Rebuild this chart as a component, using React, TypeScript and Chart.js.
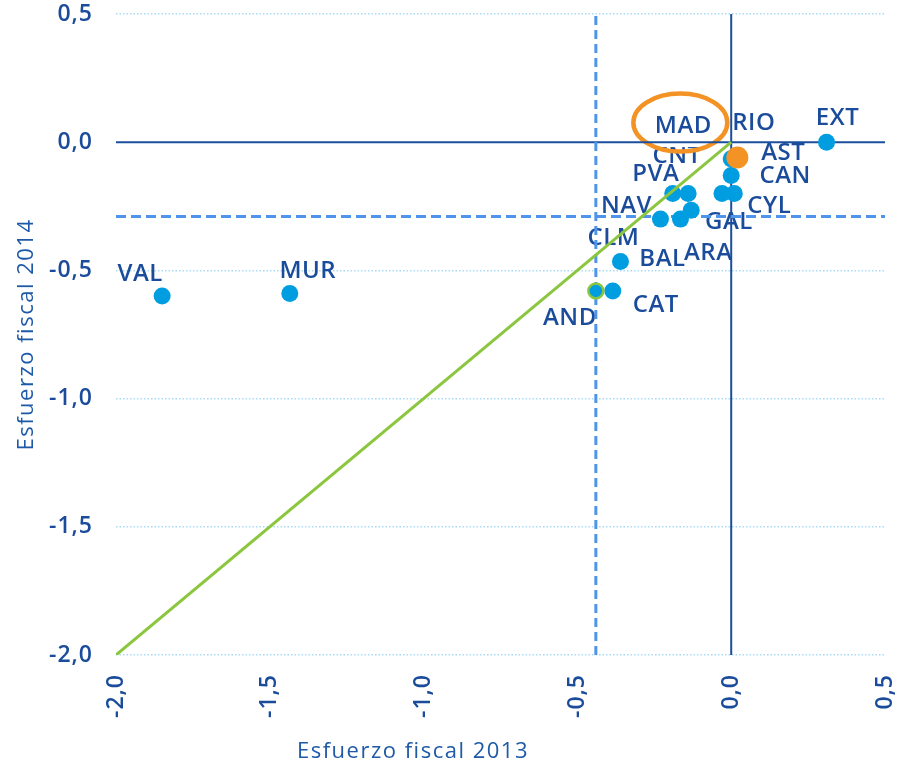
import React, { useEffect, useRef } from 'react';
import { Chart, registerables } from 'chart.js';

Chart.register(...registerables);

// ---- Data ----
const regions = ['EXT', 'MAD', 'RIO', 'AST', 'CAN', 'CYL', 'GAL', 'PVA', 'CNT', 'ARA', 'NAV', 'CLM', 'BAL', 'CAT', 'AND', 'VAL', 'MUR'];
const fiscal2013 = [0.31, 0.02, 0.015, 0.0, 0.0, 0.01, -0.03, -0.19, -0.14, -0.13, -0.23, -0.165, -0.36, -0.385, -0.44, -1.85, -1.435];
const fiscal2014 = [0.0, -0.06, -0.055, -0.065, -0.13, -0.2, -0.2, -0.2, -0.2, -0.265, -0.3, -0.3, -0.465, -0.58, -0.58, -0.6, -0.59];
const highlighted = ['MAD'];
const outlined = ['AND'];
const average2013 = -0.44;
const average2014 = -0.29;
const bisector2013 = [-2, 0];
const bisector2014 = [-2, 0];
const tickValues = [-2, -1.5, -1, -0.5, 0, 0.5];
const tickLabels = ['-2,0', '-1,5', '-1,0', '-0,5', '0,0', '0,5'];
const xTitle = 'Esfuerzo fiscal 2013';
const yTitle = 'Esfuerzo fiscal 2014';

// ---- Styles ----
const FONT = '"Open Sans", "Noto Sans", sans-serif';
const TEXT = '#1a4c9b';
const TITLE = '#1e5aa8';
const BLUE = '#009ee0';
const ORANGE = '#f39325';
const GREEN = '#8cc63f';
const DASH = '#4d94ea';
const GRID = '#a8dcf5';
const AXIS = '#1b4f9d';

// label offsets (pixels) from each point to its label centre
const labelOffsets: Record<string, [number, number]> = {
  EXT: [11, -26], MAD: [-54, -33], RIO: [18, -35], AST: [52, -7], CAN: [54, -1],
  CYL: [35, 11], GAL: [7, 27], PVA: [-17, -21], CNT: [-11, -39], ARA: [17, 41],
  NAV: [-34, -15], CLM: [-67, 17], BAL: [42, -4], CAT: [43, 13], AND: [-26, 26],
  VAL: [-22, -24], MUR: [18, -24],
};

const LABEL_SIZE = 24;

const pts = (xs: number[], ys: number[]) => xs.map((x, i) => ({ x, y: ys[i] }));

const spacingPlugin = {
  id: 'spacing',
  beforeDraw(chart: any) {
    chart.ctx.letterSpacing = '1px';
  },
  afterDraw(chart: any) {
    chart.ctx.letterSpacing = '0px';
  },
};

const labelsPlugin = {
  id: 'regionLabels',
  beforeDatasetsDraw(chart: any) {
    const { ctx, scales } = chart;
    const xs = scales.x;
    const ys = scales.y;
    ctx.save();
    ctx.letterSpacing = '0.5px';
    ctx.font = `600 ${LABEL_SIZE}px ${FONT}`;
    ctx.textAlign = 'center';
    ctx.textBaseline = 'alphabetic';
    const cap = LABEL_SIZE * 0.357;
    const centre = (name: string) => {
      const i = regions.indexOf(name);
      const off = labelOffsets[name] || [0, 0];
      return [xs.getPixelForValue(fiscal2013[i]) + off[0], ys.getPixelForValue(fiscal2014[i]) + off[1]];
    };
    regions.forEach((name) => {
      if (highlighted.includes(name)) return;
      const [cx, cy] = centre(name);
      ctx.fillStyle = TEXT;
      ctx.fillText(name, cx, cy + cap);
    });
    highlighted.forEach((name) => {
      const [cx, cy] = centre(name);
      ctx.fillStyle = '#ffffff';
      ctx.fillRect(cx - 43, cy - 22, 86, 44.5);
      ctx.beginPath();
      ctx.ellipse(cx - 3, cy - 2, 47, 29, 0, 0, Math.PI * 2);
      ctx.strokeStyle = ORANGE;
      ctx.lineWidth = 4.5;
      ctx.stroke();
      ctx.fillStyle = TEXT;
      ctx.fillText(name, cx, cy + cap);
    });
    ctx.restore();
  },
  afterDraw(chart: any) {
    const { ctx, chartArea } = chart;
    ctx.save();
    ctx.letterSpacing = '1.5px';
    ctx.font = `22px ${FONT}`;
    ctx.fillStyle = TITLE;
    ctx.textAlign = 'center';
    ctx.textBaseline = 'alphabetic';
    ctx.fillText(xTitle, 413, 758);
    ctx.translate(33, (chartArea.top + chartArea.bottom) / 2);
    ctx.rotate(-Math.PI / 2);
    ctx.fillText(yTitle, 0, 0);
    ctx.restore();
  },
};

export default function App() {
  const ref = useRef<HTMLCanvasElement>(null);

  useEffect(() => {
    document.body.style.margin = '0';
    const canvas = ref.current;
    if (!canvas) return;

    const mainNames = regions.filter((n) => !highlighted.includes(n));
    const mainData = mainNames.map((n) => {
      const i = regions.indexOf(n);
      return { x: fiscal2013[i], y: fiscal2014[i] };
    });
    const hiData = highlighted.map((n) => {
      const i = regions.indexOf(n);
      return { x: fiscal2013[i], y: fiscal2014[i] };
    });

    const tickFmt = (v: any) => {
      const idx = tickValues.findIndex((t) => Math.abs(t - Number(v)) < 1e-9);
      return idx >= 0 ? tickLabels[idx] : '';
    };

    const chart = new Chart(canvas, {
      type: 'scatter',
      data: {
        datasets: [
          {
            type: 'line',
            label: 'bisector',
            data: pts(bisector2013, bisector2014),
            borderColor: GREEN,
            borderWidth: 3,
            pointRadius: 0,
            showLine: true,
            order: 0,
          } as any,
          {
            label: 'highlighted',
            data: hiData,
            pointRadius: 11,
            backgroundColor: ORANGE,
            borderWidth: 0,
            order: 1,
          },
          {
            label: 'regions',
            data: mainData,
            pointRadius: (c: any) => (outlined.includes(mainNames[c.dataIndex]) ? 7.5 : 8.5),
            backgroundColor: BLUE,
            pointBorderColor: (c: any) => (outlined.includes(mainNames[c.dataIndex]) ? GREEN : BLUE),
            pointBorderWidth: (c: any) => (outlined.includes(mainNames[c.dataIndex]) ? 2.5 : 0),
            order: 2,
          } as any,
          {
            type: 'line',
            label: 'avg2013',
            data: [{ x: average2013, y: -2 }, { x: average2013, y: 0.5 }],
            borderColor: DASH,
            borderWidth: 3,
            borderDash: [9, 5],
            pointRadius: 0,
            showLine: true,
            order: 3,
          } as any,
          {
            type: 'line',
            label: 'avg2014',
            data: [{ x: -2, y: average2014 }, { x: 0.5, y: average2014 }],
            borderColor: DASH,
            borderWidth: 3,
            borderDash: [10, 5],
            pointRadius: 0,
            showLine: true,
            order: 3,
          } as any,
          {
            type: 'line',
            label: 'zeroX',
            data: [{ x: -2, y: 0 }, { x: 0.5, y: 0 }],
            borderColor: AXIS,
            borderWidth: 2,
            pointRadius: 0,
            showLine: true,
            order: 4,
          } as any,
          {
            type: 'line',
            label: 'zeroY',
            data: [{ x: 0, y: -2 }, { x: 0, y: 0.5 }],
            borderColor: AXIS,
            borderWidth: 2,
            pointRadius: 0,
            showLine: true,
            order: 4,
          } as any,
        ],
      },
      options: {
        responsive: false,
        animation: false,
        devicePixelRatio: 1,
        events: [],
        layout: { padding: { top: 14, right: 12, bottom: 0, left: 0 } },
        plugins: {
          legend: { display: false },
          tooltip: { enabled: false },
        },
        scales: {
          x: {
            type: 'linear',
            min: -2,
            max: 0.5,
            afterFit: (s: any) => {
              s.height = 110;
              s.paddingLeft = 0;
              s.paddingRight = 0;
              s.paddingTop = 0;
              s.paddingBottom = 0;
            },
            grid: { display: false, drawTicks: false },
            border: { display: false },
            ticks: {
              stepSize: 0.5,
              minRotation: 90,
              maxRotation: 90,
              padding: 19,
              color: TEXT,
              font: { family: FONT, size: 23, weight: '600' },
              callback: tickFmt,
            },
          },
          y: {
            type: 'linear',
            min: -2,
            max: 0.5,
            afterFit: (s: any) => {
              s.width = 116;
              s.paddingLeft = 0;
              s.paddingRight = 0;
              s.paddingTop = 0;
              s.paddingBottom = 0;
            },
            grid: {
              drawTicks: false,
              lineWidth: 1.5,
              color: (c: any) => (c.tick && c.tick.value === 0 ? 'rgba(0,0,0,0)' : GRID),
            },
            border: { display: false, dash: [1.5, 2] },
            ticks: {
              stepSize: 0.5,
              padding: 23,
              color: TEXT,
              font: { family: FONT, size: 23, weight: '600' },
              callback: tickFmt,
            },
          },
        },
      } as any,
      plugins: [spacingPlugin, labelsPlugin],
    });

    let alive = true;
    (document as any).fonts?.ready?.then(() => {
      if (alive) chart.update();
    });

    return () => {
      alive = false;
      chart.destroy();
    };
  }, []);

  return (
    <div style={{ width: 897, height: 765 }}>
      <canvas ref={ref} width={897} height={765} style={{ display: 'block', width: 897, height: 765 }} />
    </div>
  );
}
